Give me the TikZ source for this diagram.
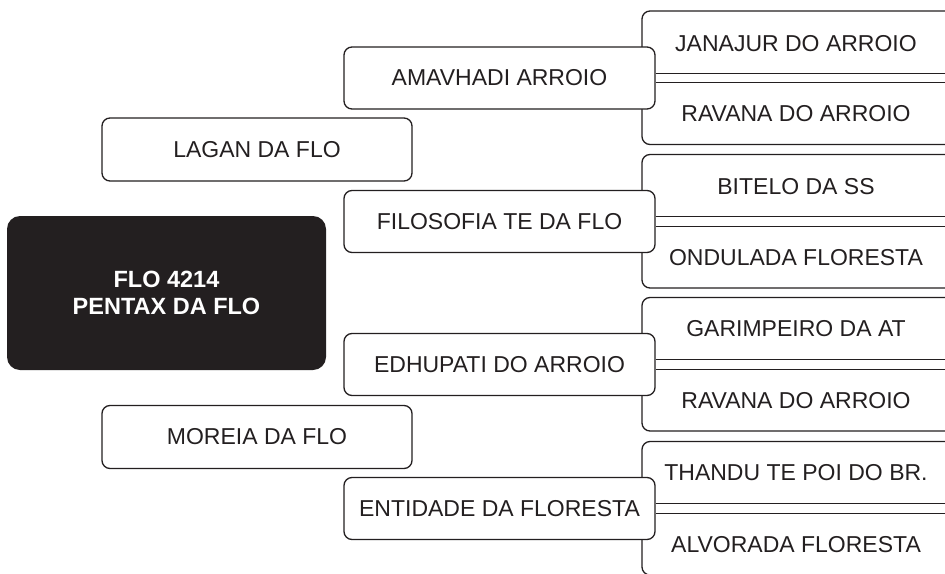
\documentclass[tikz,border=0pt]{standalone}
\usepackage{fontspec}
\setmainfont{Liberation Sans}
\definecolor{ink}{HTML}{231F20}
\begin{document}
\begin{tikzpicture}[x=1pt,y=-1pt,
  every node/.style={text=ink},
  txt/.style={font=\fontsize{23}{27}\selectfont},
  midbox/.style={txt,draw=ink,line width=1.3pt,fill=white,rounded corners=8pt,minimum width=311pt,minimum height=62pt,inner sep=0pt},
  sidebox/.style={txt,draw=ink,line width=1.3pt,fill=white,rounded corners=8pt,minimum width=310pt,minimum height=63pt,inner sep=0pt},
  mainbox/.style={fill=ink,rounded corners=13pt,minimum width=319pt,minimum height=154pt,text=white,align=center,font=\bfseries\fontsize{23.5}{27}\selectfont,inner sep=0pt},
  outline/.style={draw=ink,line width=1.3pt,rounded corners=8pt},
  link/.style={draw=ink,line width=1.3pt,double=white,double distance=8.2pt},
  lbl/.style={txt,inner sep=0pt}
]
\useasboundingbox (0,0) rectangle (945,573);
\clip (0,0) rectangle (945,573);

% right open boxes (outlines)
\foreach \g/\c in {1/78,2/221.5,3/364.5,4/508.5}{
  \draw[outline] (960,\c-67) -- (642,\c-67) -- (642,\c+66.5) -- (960,\c+66.5);
  \coordinate (e\g) at (945,\c);
}

% right labels
\node[lbl] (r1a) at (796,44) {JANAJUR DO ARROIO};
\node[lbl] (r1b) at (796,114) {RAVANA DO ARROIO};
\node[lbl] (r2a) at (796,187) {BITELO DA SS};
\node[lbl] (r2b) at (796,258) {ONDULADA FLORESTA};
\node[lbl] (r3a) at (796,329) {GARIMPEIRO DA AT};
\node[lbl] (r3b) at (796,401) {RAVANA DO ARROIO};
\node[lbl] (r4a) at (796,473) {THANDU TE POI DO BR.};
\node[lbl] (r4b) at (796,545) {ALVORADA FLORESTA};

% middle boxes
\node[midbox] (m1) at (499.5,78) {AMAVHADI ARROIO};
\node[midbox] (m2) at (499.5,221.5) {FILOSOFIA TE DA FLO};
\node[midbox] (m3) at (499.5,364.5) {EDHUPATI DO ARROIO};
\node[midbox] (m4) at (499.5,508.5) {ENTIDADE DA FLORESTA};

% double connectors
\foreach \g in {1,2,3,4}{
  \draw[link] (m\g.east) -- (e\g);
}

% left side boxes
\node[sidebox] (s1) at (257,149.5) {LAGAN DA FLO};
\node[sidebox] (s2) at (257,437) {MOREIA DA FLO};

% main box
\node[mainbox] (main) at (166.5,293) {FLO 4214\\PENTAX DA FLO};
\end{tikzpicture}
\end{document}
